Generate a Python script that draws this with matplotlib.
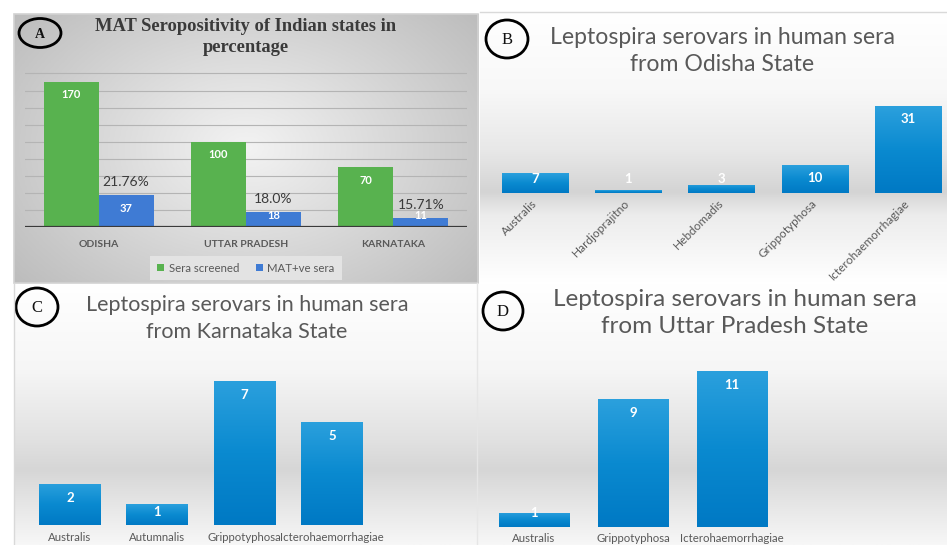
import numpy as np
import matplotlib
matplotlib.use("Agg")
import matplotlib.pyplot as plt
from matplotlib.patches import Ellipse, Rectangle
from matplotlib.colors import LinearSegmentedColormap

W, H = 947, 545

# ---- data ----
states = ["ODISHA", "UTTAR PRADESH", "KARNATAKA"]
sera_screened = [170, 100, 70]
mat_positive = [37, 18, 11]
pct_labels = ["21.76%", "18.0%", "15.71%"]

odisha_serovars = ["Australis", "Hardjoprajitno", "Hebdomadis", "Grippotyphosa", "Icterohaemorrhagiae"]
odisha_counts = [7, 1, 3, 10, 31]

karnataka_serovars = ["Australis", "Autumnalis", "Grippotyphosa", "Icterohaemorrhagiae"]
karnataka_counts = [2, 1, 7, 5]

up_serovars = ["Australis", "Grippotyphosa", "Icterohaemorrhagiae"]
up_counts = [1, 9, 11]

GREEN = "#58B24F"; BLUE_A = "#3F7BD4"
SKY_TOP = "#2BA0DD"; SKY_BOT = "#0079C4"
GRAYTXT = "#595959"
CAL = "Lato"

fig = plt.figure(figsize=(W / 100, H / 100), dpi=100)
fig.patch.set_facecolor("white")


def px_axes(x0, y0, x1, y1):
    # axes from pixel box (top-left origin)
    return fig.add_axes([x0 / W, 1 - y1 / H, (x1 - x0) / W, (y1 - y0) / H])


def radial_bg(box, inner, outer):
    ax = px_axes(*box); ax.axis("off")
    yy, xx = np.mgrid[-1:1:200j, -1:1:300j]
    r = np.clip(np.sqrt((xx * 0.95) ** 2 + (yy * 0.8) ** 2) / 1.25, 0, 1)
    cm = LinearSegmentedColormap.from_list("rad", [inner, outer])
    ax.imshow(r, cmap=cm, aspect="auto", extent=(0, 1, 0, 1), vmin=0, vmax=1)


def band_bg(box, stops):
    ax = px_axes(*box); ax.axis("off")
    y0, y1 = box[1], box[3]
    cm = LinearSegmentedColormap.from_list("band", [((s - y0) / (y1 - y0), c) for s, c in stops])
    col = np.linspace(0, 1, 400)[:, None]
    ax.imshow(col, cmap=cm, aspect="auto", extent=(0, 1, 0, 1), vmin=0, vmax=1)


def style(ax):
    ax.set_facecolor("none")
    for s in ax.spines.values():
        s.set_visible(False)
    ax.tick_params(length=0, left=False, labelleft=False)


def gradient_fill(ax, bars):
    cm = LinearSegmentedColormap.from_list("bar", [SKY_BOT, "#0A8AD0", SKY_TOP])
    grad = np.linspace(0, 1, 100)[:, None]
    for b in bars:
        x, w, h = b.get_x(), b.get_width(), b.get_height()
        im = ax.imshow(grad, cmap=cm, origin="lower", aspect="auto",
                       extent=(x, x + w, 0, h), zorder=3.5)
        im.set_clip_path(b)


def value_labels(ax, bars, vals, ppu, size, below=13, floor=13):
    # white labels inside the bar end, kept off the baseline for short bars
    for b, v in zip(bars, vals):
        y_px = max(v * ppu - below, floor)
        ax.text(b.get_x() + b.get_width() / 2, y_px / ppu, str(v), ha="center", va="center",
                color="white", fontsize=size, fontweight="bold", family=CAL, zorder=5)


# ---- backgrounds ----
radial_bg((14, 14, 478, 283), "#f3f3f3", "#bcbcbc")
band_bg((480, 12, 947, 283), [(12, "#ffffff"), (90, "#f8f8f8"), (150, "#e8e8e8"),
                              (192, "#d4d4d4"), (215, "#ececec"), (283, "#ffffff")])
band_bg((14, 283, 478, 545), [(283, "#ffffff"), (370, "#f6f6f6"), (440, "#e1e1e1"),
                              (470, "#d6d6d6"), (505, "#e6e6e6"), (545, "#f7f7f7")])
band_bg((478, 283, 947, 545), [(283, "#ffffff"), (370, "#f6f6f6"), (440, "#e1e1e1"),
                               (470, "#d6d6d6"), (505, "#e6e6e6"), (545, "#f7f7f7")])

# ---- panel A ----
axA = px_axes(25, 56.4, 467, 227)
style(axA)
xa = np.arange(len(states))
bw = 0.373
b1 = axA.bar(xa - bw / 2, sera_screened, bw, color=GREEN, zorder=3, label="Sera screened")
b2 = axA.bar(xa + bw / 2, mat_positive, bw, color=BLUE_A, zorder=3, label="MAT+ve sera")
axA.set_xlim(-0.5, 2.5); axA.set_ylim(0, 200)
axA.set_yticks(range(20, 200, 20))
axA.grid(axis="y", color="#b4b4b4", lw=0.8, zorder=0)
axA.axhline(0, color="#3a3a3a", lw=1.6, zorder=4)
axA.set_xticks(xa, states)
axA.tick_params(axis="x", pad=9, labelsize=7.5, labelcolor=GRAYTXT)
for t in axA.get_xticklabels():
    t.set_family(CAL); t.set_fontweight("bold")
ppuA = 170.6 / 200
value_labels(axA, b1, sera_screened, ppuA, 8, below=13, floor=12)
value_labels(axA, b2, mat_positive, ppuA, 8, below=13, floor=12)
for b, v, p in zip(b2, mat_positive, pct_labels):
    axA.annotate(p, (b.get_x() + b.get_width() / 2, v), xytext=(0, 5), textcoords="offset points",
                 ha="center", va="bottom", fontsize=10, color="#3a3a3a", family=CAL, zorder=5)
leg = axA.legend(loc="center", bbox_to_anchor=(246 / W, 1 - 268 / H), bbox_transform=fig.transFigure,
                 ncol=2, fontsize=8.2, frameon=True, facecolor="#e3e3e3", edgecolor="none", framealpha=1,
                 handlelength=0.6, handleheight=0.6, handletextpad=0.4, columnspacing=1.5, borderpad=0.6)
leg.get_frame().set_boxstyle("square", pad=0)
for t in leg.get_texts():
    t.set_color(GRAYTXT); t.set_family(CAL)

# ---- panel B ----
axB = px_axes(488.3, 95, 947, 193)
style(axB)
xb = np.arange(len(odisha_serovars))
bB = axB.bar(xb, odisha_counts, 0.71, color="#0A8AD0", zorder=3)
gradient_fill(axB, bB)
axB.set_xlim(-0.5, -0.5 + (947 - 488.3) / 93.3); axB.set_ylim(0, 35)
axB.set_xticks(xb, odisha_serovars, rotation=45, ha="right", va="center", rotation_mode="anchor")
axB.tick_params(axis="x", pad=6, labelsize=8.5, labelcolor=GRAYTXT)
for t in axB.get_xticklabels():
    t.set_family(CAL)
value_labels(axB, bB, odisha_counts, 98 / 35, 9.5, below=13, floor=14)

# ---- panel C ----
axC = px_axes(26.4, 360, 470, 525)
style(axC)
xc = np.arange(len(karnataka_serovars))
bC = axC.bar(xc, karnataka_counts, 0.71, color="#0A8AD0", zorder=3)
gradient_fill(axC, bC)
axC.set_xlim(-0.5, -0.5 + (470 - 26.4) / 87.3); axC.set_ylim(0, 8)
axC.set_xticks(xc, karnataka_serovars)
axC.tick_params(axis="x", pad=5, labelsize=8.2, labelcolor=GRAYTXT)
for t in axC.get_xticklabels():
    t.set_family(CAL)
value_labels(axC, bC, karnataka_counts, 165 / 8, 9.5, below=14, floor=13)

# ---- panel D ----
axD = px_axes(484.5, 349.5, 940, 527)
style(axD)
xd = np.arange(len(up_serovars))
bD = axD.bar(xd, up_counts, 0.71, color="#0A8AD0", zorder=3)
gradient_fill(axD, bD)
axD.set_xlim(-0.5, -0.5 + (940 - 484.5) / 99); axD.set_ylim(0, 12.5)
axD.set_xticks(xd, up_serovars)
axD.tick_params(axis="x", pad=4, labelsize=8.2, labelcolor=GRAYTXT)
for t in axD.get_xticklabels():
    t.set_family(CAL)
value_labels(axD, bD, up_counts, 177.5 / 12.5, 9.5, below=14, floor=14)

# ---- overlay: frames, titles, panel letters ----
ov = fig.add_axes([0, 0, 1, 1]); ov.axis("off")
ov.set_xlim(0, W); ov.set_ylim(H, 0)
ov.add_patch(Rectangle((14, 14), 464, 269, fill=False, ec="#d2d2d2", lw=1.2))
ov.plot([480, 947], [12, 12], color="#d9d9d9", lw=1)
ov.plot([14, 14], [283, 545], color="#d9d9d9", lw=1)
ov.plot([477, 477], [283, 545], color="#e6e6e6", lw=1)

ov.text(246, 37, "MAT Seropositivity of Indian states in\npercentage", ha="center", va="center",
        family="Liberation Serif", fontweight="bold", fontsize=13.3, color="#3a3a3a", linespacing=1.35)
ov.text(722, 51, "Leptospira serovars in human sera\nfrom Odisha State", ha="center", va="center",
        family=CAL, fontsize=16.6, color=GRAYTXT, linespacing=1.4)
ov.text(247, 318.5, "Leptospira serovars in human sera\nfrom Karnataka State", ha="center", va="center",
        family=CAL, fontsize=15.5, color=GRAYTXT, linespacing=1.42)
ov.text(735, 313, "Leptospira serovars in human sera\nfrom Uttar Pradesh State", ha="center", va="center",
        family=CAL, fontsize=17.5, color=GRAYTXT, linespacing=1.36)

for (cx, cy, w, h, s) in [(40, 33, 42, 29, "A"), (507, 39, 42, 38, "B"),
                          (37, 307, 42, 38, "C"), (503, 311, 40, 38, "D")]:
    ov.add_patch(Ellipse((cx, cy), w, h, fill=False, ec="black", lw=2))
    ov.text(cx, cy + 1, s, ha="center", va="center", family="Liberation Serif",
            fontsize=10 if s == "A" else 12, fontweight="bold" if s == "A" else "normal", color="#111111")

fig.savefig("out.png", dpi=100, facecolor="white")
